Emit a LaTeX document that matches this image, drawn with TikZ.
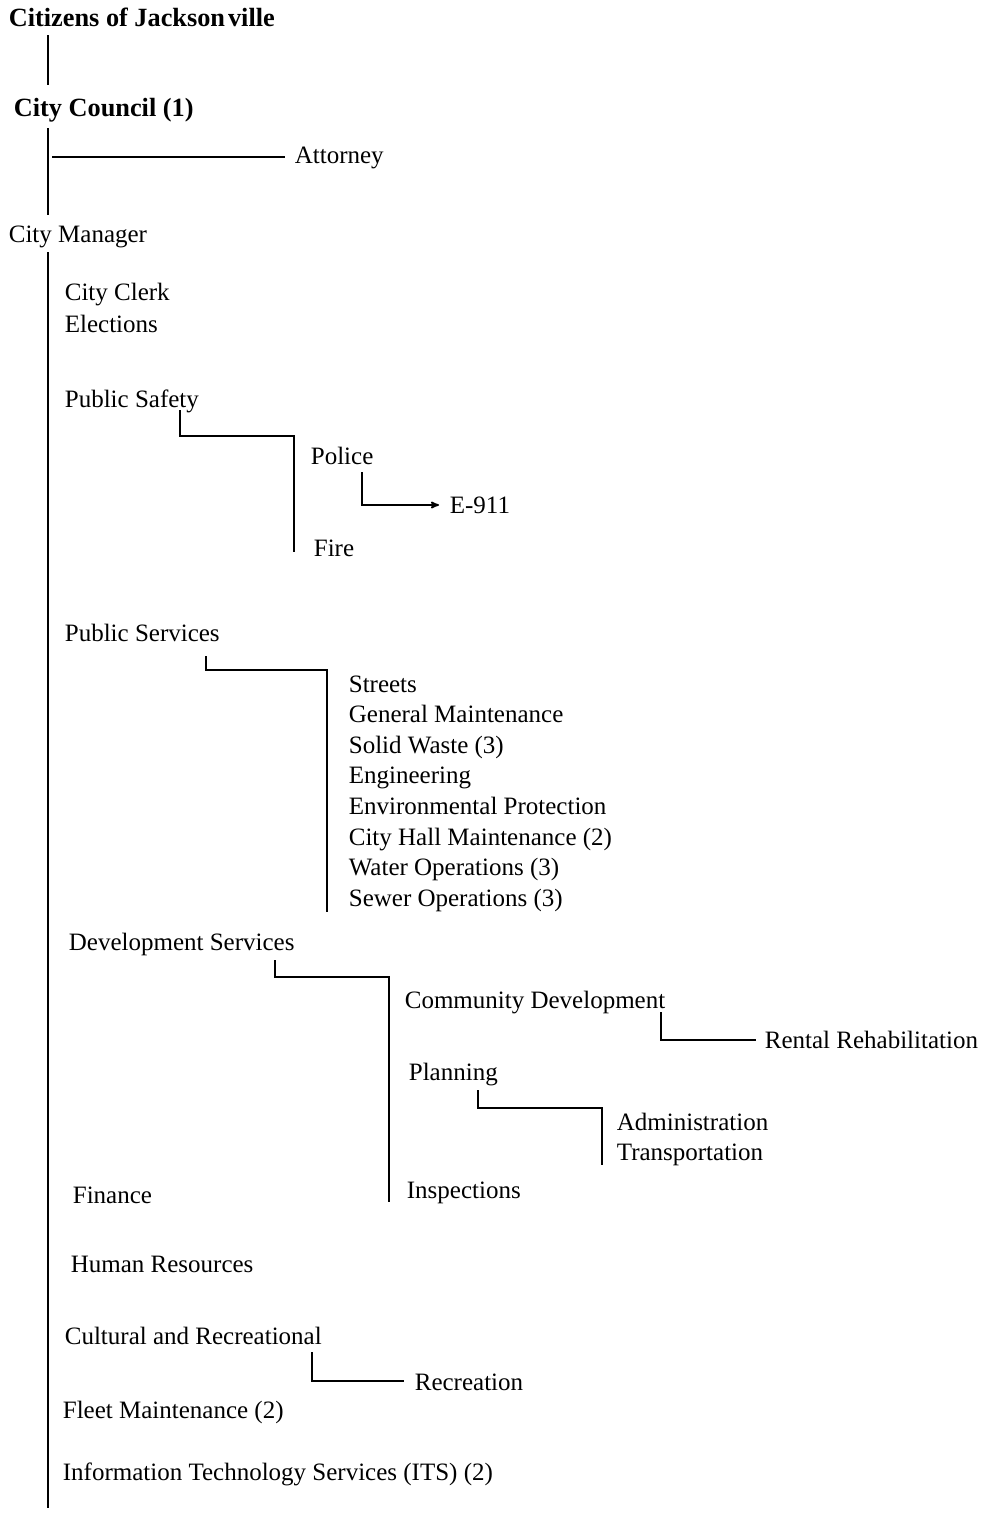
\documentclass[tikz,border=0pt]{standalone}
\usepackage{fontspec}
\setmainfont{Liberation Serif}
\usepackage{tikz}
\usetikzlibrary{arrows}

\begin{document}
\begin{tikzpicture}[x=1pt,y=-1pt,>=stealth',line width=1.7pt,
                    every node/.style={inner sep=0pt,anchor=base west,
                    font=\fontsize{25}{30}\selectfont}]
  \tikzstyle{head}=[font=\fontsize{26.3}{30}\selectfont\bfseries]
  \tikzstyle{link}=[draw=black,line width=1.7pt]
  \useasboundingbox[fill=white] (0,0) rectangle (992,1515);

  % top of the chart
  \node[head] (cit) at (8,26)   {Citizens of Jackson\kern3pt ville};
  \node[head] (cc)  at (13,116) {City Council (1)};
  \node (att) at (294,163) {Attorney};
  \node (cm)  at (8,242)   {City Manager};

  % departments
  \node (clerk) at (64,300)  {City Clerk};
  \node (elec)  at (64,332)  {Elections};
  \node (ps)    at (64,407)  {Public Safety};
  \node (pol)   at (310,464) {Police};
  \node (e911)  at (449,513) {E-911};
  \node (fire)  at (313,556) {Fire};
  \node (pub)   at (64,641)  {Public Services};
  \foreach \t [count=\i from 0] in {Streets,General Maintenance,Solid Waste (3),
      Engineering,Environmental Protection,City Hall Maintenance (2),
      Water Operations (3),Sewer Operations (3)}
    \node (s\i) at (348,692+30.6*\i) {\t};
  \node (dev)   at (68,950)   {Development Services};
  \node (cd)    at (404,1008) {Community Development};
  \node (rr)    at (764,1048) {Rental Rehabilitation};
  \node (plan)  at (408,1080) {Planning};
  \node (adm)   at (616,1130) {Administration};
  \node (trans) at (616,1160) {Transportation};
  \node (insp)  at (406,1198) {Inspections};
  \node (fin)   at (72,1203)  {Finance};
  \node (hr)    at (70,1272)  {Human Resources};
  \node (cult)  at (64,1344)  {Cultural and Recreational};
  \node (rec)   at (414,1390) {Recreation};
  \node (fleet) at (62,1418)  {Fleet Maintenance (2)};
  \node (its)   at (62,1480)  {Information Technology Services (ITS) (2)};

  % line ends
  \coordinate (cit1) at (48,35);    \coordinate (cit2) at (48,85);
  \coordinate (cc1)  at (48,128);   \coordinate (cc2)  at (48,215);
  \coordinate (att1) at (52,157);   \coordinate (att2) at (285,157);
  \coordinate (cm1)  at (48,252);   \coordinate (cm2)  at (48,1508);
  \coordinate (ps1)  at (180,410);  \coordinate (ps2)  at (294,436);
  \coordinate (ps3)  at (294,552);
  \coordinate (pol1) at (362,472);  \coordinate (pol2) at (439,505);
  \coordinate (pub1) at (206,656);  \coordinate (pub2) at (327,670);
  \coordinate (pub3) at (327,912);
  \coordinate (dev1) at (275,960);  \coordinate (dev2) at (389,977);
  \coordinate (dev3) at (389,1202);
  \coordinate (cd1)  at (661,1012); \coordinate (cd2)  at (756,1040);
  \coordinate (pl1)  at (478,1090); \coordinate (pl2)  at (602,1108);
  \coordinate (pl3)  at (602,1165);
  \coordinate (cu1)  at (312,1352); \coordinate (cu2)  at (404,1381);

  \path[link] (cit1) -- (cit2);
  \path[link] (cc1) -- (cc2);
  \path[link] (att1) -- (att2);
  \path[link] (cm1) -- (cm2);
  \path[link] (ps1) |- (ps2) -- (ps3);
  \path[link,->] (pol1) |- (pol2);
  \path[link] (pub1) |- (pub2) -- (pub3);
  \path[link] (dev1) |- (dev2) -- (dev3);
  \path[link] (cd1) |- (cd2);
  \path[link] (pl1) |- (pl2) -- (pl3);
  \path[link] (cu1) |- (cu2);

\end{tikzpicture}
\end{document}
